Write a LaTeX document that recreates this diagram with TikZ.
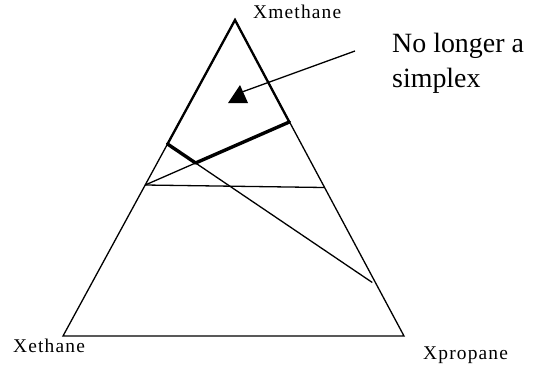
\documentclass[tikz,border=0pt]{standalone}
\usepackage{fontspec}
\setmainfont{Liberation Serif}
\newfontfamily\lblfont[LetterSpace=6]{Liberation Serif}
\begin{document}
\begin{tikzpicture}[x=1bp,y=-1bp,
  thinline/.style={line width=1.3bp},
  thickside/.style={line width=2.3bp, line cap=round},
  thickbar/.style={line width=3.4bp, line cap=round},
  vlabel/.style={inner sep=0pt, anchor=base west, font=\lblfont\fontsize{19.5}{22}\selectfont},
  biglabel/.style={inner sep=0pt, anchor=base west, font=\fontsize{28}{35}\selectfont}]
\useasboundingbox (0,0) rectangle (535,368);
% vertices
\coordinate (A) at (235,20);
\coordinate (B) at (63,336);
\coordinate (C) at (404,336);
% points on sides
\coordinate (L1) at (167.5,144);
\coordinate (L2) at (145.2,185);
\coordinate (R1) at (289.3,122);
\coordinate (R2) at (324.4,187.5);
\coordinate (E) at (372.3,282.5);
\coordinate (X) at (intersection of L1--E and L2--R1);
% triangle
\draw[thinline, line join=miter] (A) -- (B) -- (C) -- cycle;
\draw[thickside] (L1) -- (A) -- (R1);
% inner lines
\draw[thinline] (L2) -- (R2);
\draw[thinline] (L2) -- (X);
\draw[thickbar] (X) -- (R1);
\draw[thickbar] (L1) -- (X);
\draw[thinline] (X) -- (E);
% marker and pointer
\coordinate (T1) at (240,85);
\coordinate (T2) at (228,103);
\coordinate (T3) at (248,103);
\fill (T1) -- (T2) -- (T3) -- cycle;
\coordinate (P) at (355,51);
\coordinate (Q) at (242,92);
\draw[thinline] (P) -- (Q);
% labels
\node[vlabel] (lm) at (253,18.5) {Xmethane};
\node[vlabel] (le) at (13,352) {Xethane};
\node[vlabel] (lp) at (423,359.5) {Xpropane};
\node[biglabel] (n1) at (392,52) {No longer a};
\node[biglabel] (n2) at (392,87) {simplex};
\end{tikzpicture}
\end{document}
